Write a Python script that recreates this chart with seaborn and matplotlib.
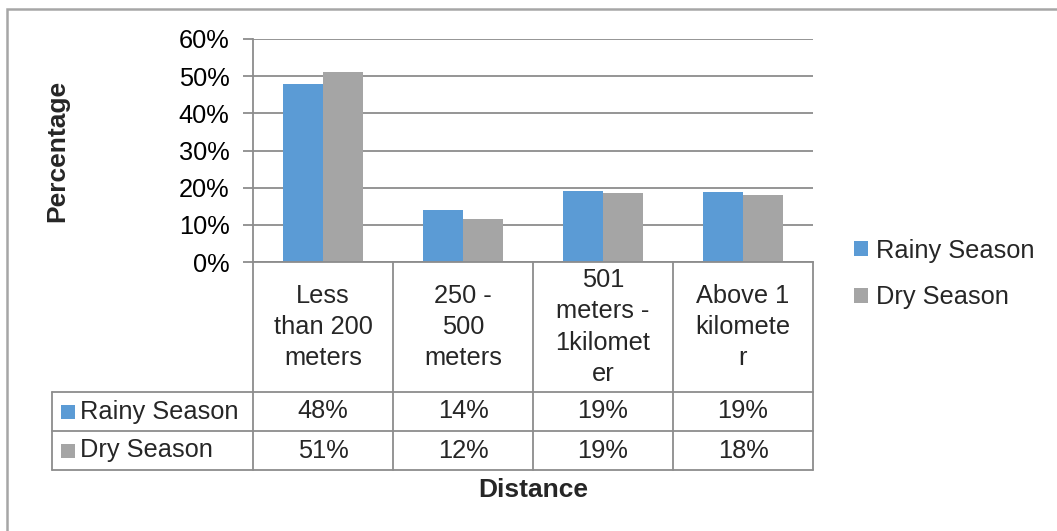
import numpy as np
import pandas as pd
import matplotlib
matplotlib.use("Agg")
import matplotlib.pyplot as plt
import seaborn as sns
from matplotlib.patches import Rectangle, Patch
from matplotlib.lines import Line2D
from matplotlib.ticker import PercentFormatter
import matplotlib.transforms as mtransforms

# ---- data ----
categories = ["Less\nthan 200\nmeters", "250 -\n500\nmeters",
              "501\nmeters -\n1kilomet\ner", "Above 1\nkilomete\nr"]
series_names = ["Rainy Season", "Dry Season"]
rainy = [48.0, 13.9, 19.0, 18.7]
dry = [51.0, 11.7, 18.6, 18.1]
colors = ["#5B9BD5", "#A5A5A5"]
y_ticks = [0, 10, 20, 30, 40, 50, 60]
y_label = "Percentage"
x_label = "Distance"

sns.set_theme(style="white")
plt.rcParams['font.family'] = ['Liberation Sans', 'DejaVu Sans']

W, H = 1057, 531
LINE = "#8C8C8C"
FS = 18.3
fig = plt.figure(figsize=(W / 100, H / 100), dpi=100)
fig.patch.set_facecolor("white")


def fy(px):
    return 1 - px / H


def fx(px):
    return px / W


ax = fig.add_axes([fx(253), fy(262), fx(813) - fx(253), fy(39) - fy(262)])

df = pd.DataFrame({
    "Distance": categories * 2,
    "Season": [series_names[0]] * len(categories) + [series_names[1]] * len(categories),
    "Percentage": rainy + dry,
})
sns.barplot(data=df, x="Distance", y="Percentage", hue="Season",
            hue_order=series_names, order=categories, palette=colors,
            width=0.57, linewidth=0, saturation=1, ax=ax, legend=False)

ax.set_xlim(-0.5, len(categories) - 0.5)
ax.set_ylim(y_ticks[0], y_ticks[-1])
ax.set_yticks(y_ticks)
ax.yaxis.set_major_formatter(PercentFormatter(decimals=0))
ax.set_xticks([])
ax.set_xlabel("")
ax.set_ylabel("")
ax.grid(axis="y", color=LINE, linewidth=1.3)
ax.set_axisbelow(True)
for s in ["top", "right"]:
    ax.spines[s].set_visible(False)
for s in ["left", "bottom"]:
    ax.spines[s].set_color(LINE)
    ax.spines[s].set_linewidth(1.3)
ax.tick_params(axis="y", length=7, width=1.3, color=LINE, pad=10,
               labelsize=FS, labelcolor="black", left=True, direction="out")

# ---- data table ----
tr = mtransforms.blended_transform_factory(ax.transData, fig.transFigure)
x_right = ax.get_position().x1
row_tops = [262, 392, 431, 470]
for b in np.arange(-0.5, len(categories), 1.0):
    fig.add_artist(Line2D([b, b], [fy(262), fy(470)], transform=tr,
                          color=LINE, lw=1.3))
for yy in row_tops[1:]:
    fig.add_artist(Line2D([fx(52), x_right], [fy(yy), fy(yy)],
                          transform=fig.transFigure, color=LINE, lw=1.3))
fig.add_artist(Line2D([fx(52), fx(52)], [fy(392), fy(470)],
                      transform=fig.transFigure, color=LINE, lw=1.3))

for i, cat in enumerate(categories):
    fig.text(i, fy(327), cat, transform=tr, ha="center", va="center",
             fontsize=FS, linespacing=1.37)

for r, (name, vals, col) in enumerate(zip(series_names, [rainy, dry], colors)):
    yc = (row_tops[r + 1] + row_tops[r + 2]) / 2
    fig.patches.append(Rectangle((fx(61), fy(yc + 7)), fx(14), fy(yc - 7) - fy(yc + 7),
                                 transform=fig.transFigure, facecolor=col,
                                 edgecolor="none"))
    fig.text(fx(80), fy(yc), name, ha="left", va="center", fontsize=FS)
    for i, v in enumerate(vals):
        fig.text(i, fy(yc), f"{v:.0f}%", transform=tr, ha="center",
                 va="center", fontsize=FS)

# ---- legend ----
handles = [Patch(facecolor=c, edgecolor="none") for c in colors]
ax.legend(handles, series_names, loc="center left",
          bbox_to_anchor=(fx(854), fy(274)), bbox_transform=fig.transFigure,
          frameon=False, fontsize=FS, handlelength=0.55, handleheight=0.55,
          handletextpad=0.3, labelspacing=0.9, borderpad=0, borderaxespad=0)

# ---- axis titles ----
fig.text(fx(57), fy(151), y_label, rotation=90, ha="center", va="center",
         fontsize=FS + 0.7, fontweight="bold")
fig.text(fx(533), fy(490), x_label, ha="center", va="center",
         fontsize=FS + 0.7, fontweight="bold")

# ---- outer border ----
fig.patches.append(Rectangle((fx(7), -0.5), 2, fy(9.5) + 0.5, fill=False,
                             edgecolor="#A6A6A6", lw=1.8,
                             transform=fig.transFigure))

fig.savefig("out.png", dpi=100)
